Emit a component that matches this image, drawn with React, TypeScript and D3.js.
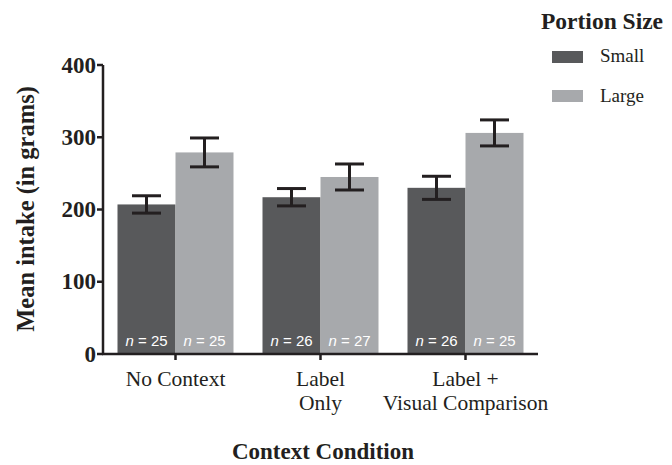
import React from "react";
import * as d3 from "d3";

const categories = ["No Context", "Label Only", "Label + Visual Comparison"];
const categoryLines = [["No Context"], ["Label", "Only"], ["Label +", "Visual Comparison"]];
const series = ["Small", "Large"];
const smallMeans = [207, 217, 230];
const largeMeans = [279, 245, 306];
const smallErr = [12, 12, 16];
const largeErr = [20, 18, 18];
const smallN = [25, 26, 26];
const largeN = [25, 27, 25];
const yTicks = [0, 100, 200, 300, 400];

const W = 672, H = 465;
const left = 103, right = 538, top = 65, bottom = 354;
const colors = ["#58595b", "#a7a9ac"];
const serif = "'Liberation Serif', 'Times New Roman', serif";
const sans = "'Liberation Sans', Arial, sans-serif";

export default function App() {
  const x = d3.scaleBand<string>().domain(categories).range([left, right]).paddingInner(0.2).paddingOuter(0.1);
  const xs = d3.scaleBand<string>().domain(series).range([0, x.bandwidth()]);
  const y = d3.scaleLinear().domain([0, 400]).range([bottom, top]);
  const data = series.map((s, si) =>
    categories.map((c, ci) => ({
      c, s, si,
      v: si === 0 ? smallMeans[ci] : largeMeans[ci],
      e: si === 0 ? smallErr[ci] : largeErr[ci],
      n: si === 0 ? smallN[ci] : largeN[ci],
    }))
  ).flat();
  const capW = 29;
  return (
    <svg width={W} height={H} style={{ position: "absolute", left: 0, top: 0 }}>
      <rect width={W} height={H} fill="#fff" />
      {data.map((d, i) => {
        const bx = (x(d.c) as number) + (xs(d.s) as number);
        const bw = xs.bandwidth();
        return (
          <g key={i}>
            <rect x={bx} y={y(d.v)} width={bw} height={bottom - y(d.v)} fill={colors[d.si]} />
            <text x={bx + bw / 2} y={bottom - 8} textAnchor="middle" fill="#fff" fontFamily={sans} fontSize={15}>
              <tspan fontStyle="italic">n</tspan> = {d.n}
            </text>
          </g>
        );
      })}
      {data.map((d, i) => {
        const cx = (x(d.c) as number) + (xs(d.s) as number) + xs.bandwidth() / 2;
        return (
          <g key={"e" + i} stroke="#231f20" strokeWidth={3}>
            <line x1={cx} x2={cx} y1={y(d.v + d.e)} y2={y(d.v - d.e)} />
            <line x1={cx - capW / 2} x2={cx + capW / 2} y1={y(d.v + d.e)} y2={y(d.v + d.e)} />
            <line x1={cx - capW / 2} x2={cx + capW / 2} y1={y(d.v - d.e)} y2={y(d.v - d.e)} />
          </g>
        );
      })}
      {/* axes */}
      <line x1={left} x2={left} y1={top} y2={bottom + 1} stroke="#231f20" strokeWidth={2.5} />
      <line x1={left - 1} x2={right} y1={bottom} y2={bottom} stroke="#231f20" strokeWidth={2.5} />
      {yTicks.map((t) => (
        <g key={t}>
          <line x1={left - 6} x2={left} y1={y(t)} y2={y(t)} stroke="#231f20" strokeWidth={2.5} />
          <text x={left - 7} y={y(t) + 7.5} textAnchor="end" fontFamily={serif} fontWeight="bold" fontSize={23} fill="#231f20">{t}</text>
        </g>
      ))}
      {categories.map((c, ci) => {
        const cx = (x(c) as number) + x.bandwidth() / 2;
        return (
          <g key={c}>
            <line x1={cx} x2={cx} y1={bottom} y2={bottom + 6} stroke="#231f20" strokeWidth={2.5} />
            {categoryLines[ci].map((ln, li) => (
              <text key={li} x={cx} y={386 + li * 24} textAnchor="middle" fontFamily={serif} fontSize={21.5} fill="#231f20">{ln}</text>
            ))}
          </g>
        );
      })}
      <text transform={`translate(34,209) rotate(-90)`} textAnchor="middle" fontFamily={serif} fontWeight="bold" fontSize={24.5} fill="#231f20">Mean intake (in grams)</text>
      <text x={323} y={459} textAnchor="middle" fontFamily={serif} fontWeight="bold" fontSize={23} fill="#231f20">Context Condition</text>
      {/* legend */}
      <text x={541} y={29} fontFamily={serif} fontWeight="bold" fontSize={23.5} fill="#231f20">Portion Size</text>
      {series.map((s, si) => (
        <g key={s}>
          <rect x={552} y={51 + si * 39} width={31} height={12} fill={colors[si]} />
          <text x={600} y={62 + si * 40} fontFamily={serif} fontSize={19} fill="#231f20">{s}</text>
        </g>
      ))}
    </svg>
  );
}
